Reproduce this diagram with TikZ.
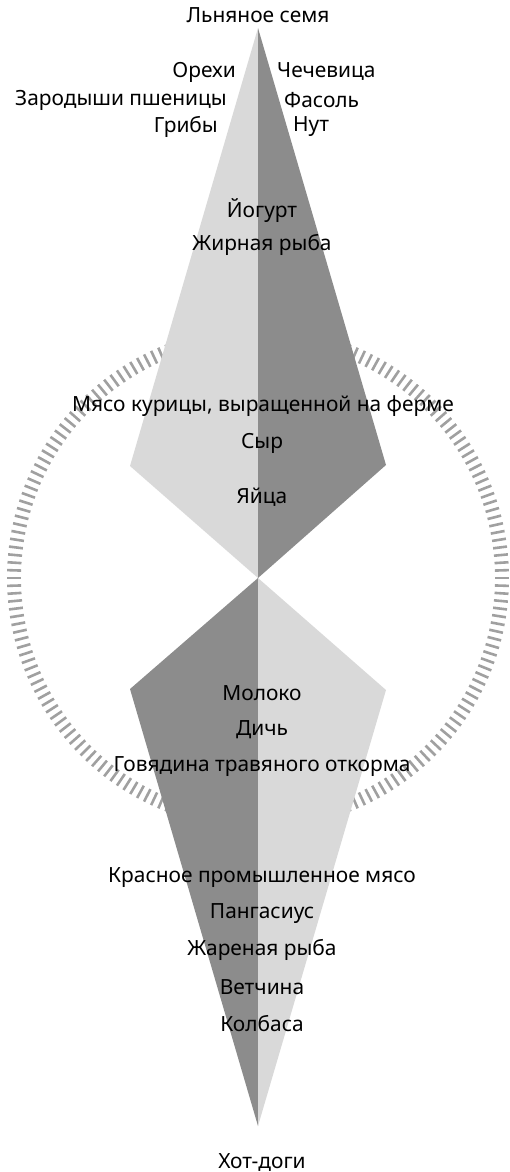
\documentclass[tikz,border=0pt]{standalone}
\usepackage{fontspec}
\usetikzlibrary{calc}
\setmainfont{Noto Sans}
\definecolor{lightg}{RGB}{217,217,217}
\definecolor{darkg}{RGB}{140,140,140}
\definecolor{tickg}{RGB}{160,160,160}
\begin{document}
\begin{tikzpicture}[x=1pt,y=-1pt,
  lbl/.style={font=\fontsize{20.9}{24}\selectfont,inner sep=0pt,text=black},
  lblr/.style={lbl,anchor=east},
  lbll/.style={lbl,anchor=west}]
\useasboundingbox (0,0) rectangle (510,1172);
\coordinate (C) at (258,578);
% tick ring
\foreach \a in {0,1.8,...,359}{
  \draw[tickg,line width=2.6pt] ($(C)+(\a:237)$) -- ($(C)+(\a:251)$);
}
\coordinate (T) at (258,28);
\coordinate (UL) at (130,466);
\coordinate (UR) at (386,465);
\coordinate (LL) at (130,689);
\coordinate (LR) at (386,690);
\coordinate (B) at (258,1126);
\fill[lightg] (T) -- (UL) -- (C) -- cycle;
\fill[darkg] (T) -- (UR) -- (C) -- cycle;
\fill[darkg] (C) -- (LL) -- (B) -- cycle;
\fill[lightg] (C) -- (LR) -- (B) -- cycle;
% labels
\node[lbl] (n1) at (258,15) {Льняное семя};
\node[lblr] (n2) at (236,72) {Орехи};
\node[lblr] (n3) at (227,100) {Зародыши пшеницы};
\node[lblr] (n4) at (218,127) {Грибы};
\node[lbll] (n5) at (277,72) {Чечевица};
\node[lbll] (n6) at (284,100) {Фасоль};
\node[lbll] (n7) at (293,127) {Нут};
\node[lbl] (n8) at (262,211) {Йогурт};
\node[lbl] (n9) at (262,245) {Жирная рыба};
\node[lbl] (n10) at (263,406) {Мясо курицы, выращенной на ферме};
\node[lbl] (n11) at (262,443) {Сыр};
\node[lbl] (n12) at (262,497) {Яйца};
\node[lbl] (n13) at (262,693) {Молоко};
\node[lbl] (n14) at (262,730) {Дичь};
\node[lbl] (n15) at (262,767) {Говядина травяного откорма};
\node[lbl] (n16) at (262,878) {Красное промышленное мясо};
\node[lbl] (n17) at (262,914) {Пангасиус};
\node[lbl] (n18) at (262,950) {Жареная рыба};
\node[lbl] (n19) at (262,987) {Ветчина};
\node[lbl] (n20) at (262,1024) {Колбаса};
\node[lbl] (n21) at (262,1162) {Хот-доги};
\end{tikzpicture}
\end{document}
